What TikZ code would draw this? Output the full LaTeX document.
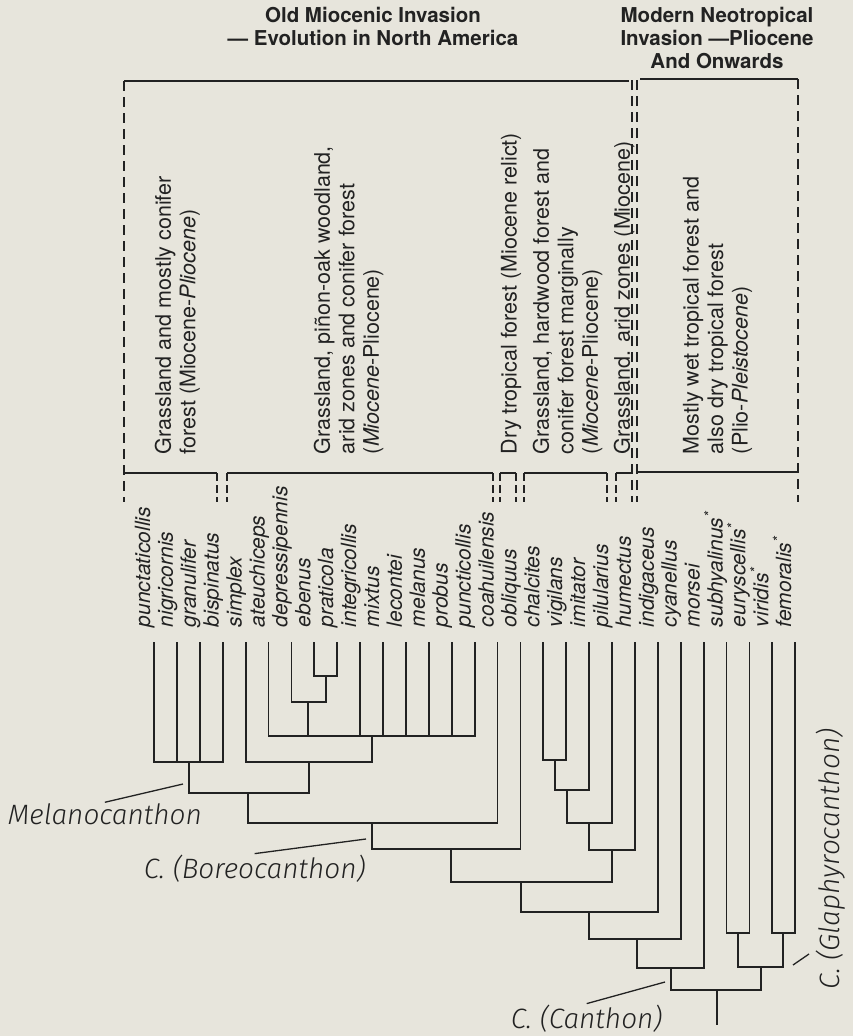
\documentclass[tikz,border=0pt]{standalone}
\usepackage{fontspec}
\setmainfont{TeX Gyre Heros}
\newfontfamily\leroy{Fira Sans Light Italic}
\definecolor{paper}{RGB}{231,229,220}
\definecolor{ink}{RGB}{34,34,34}

\begin{document}
\begin{tikzpicture}[x=1pt,y=-1pt,color=ink,line width=1.8pt,
    bar/.style={line width=2.8pt},
    sub/.style={line width=2pt},
    zone/.style={line width=1.2pt,dash pattern=on 10pt off 6pt},
    tick/.style={line width=1.2pt,dash pattern=on 8pt off 4pt},
    leader/.style={line width=1.3pt},
    taxon/.style={rotate=90,anchor=base west,inner sep=0,font=\fontsize{21}{24}\selectfont\itshape},
    habitat/.style={rotate=90,anchor=north west,inner sep=0,align=left,font=\fontsize{21.5}{24.5}\selectfont},
    header/.style={anchor=north,inner sep=0,align=center,font=\fontsize{20.5}{23.3}\selectfont\bfseries},
    genus/.style={anchor=base west,inner sep=0,font=\fontsize{28}{30}\selectfont\leroy}]
    \fill[paper] (0,0) rectangle (853,1036);

    \node[header] (oldhead) at (373,6) {Old Miocenic Invasion\\--- Evolution in North America};
    \node[header] (newhead) at (717,6) {Modern Neotropical\\Invasion ---Pliocene\\And Onwards};

    \draw[bar] (124,81) -- (629,81);
    \draw[bar] (640,79) -- (798,79);
    \draw[zone] (124,81) -- (124,502);
    \draw[zone] (632,80) -- (632,502);
    \draw[zone] (637,80) -- (637,502);
    \draw[zone] (798,79) -- (798,502);
    \draw[sub] (124,473) -- (217,473)
               (227,473) -- (493,473)
               (500,473) -- (516,473)
               (524,473) -- (607,473)
               (616,473) -- (632,473)
               (637,472) -- (798,472);
    \foreach \x in {217,227,493,500,516,524,607,616}
        \draw[tick] (\x,473) -- (\x,502);

    \node[habitat] (zoneA) at (154,455) {Grassland and mostly conifer\\forest (Miocene-\textit{Pliocene})};
    \node[habitat] (zoneB) at (313,455) {Grassland, piñon-oak woodland,\\arid zones and conifer forest\\(\textit{Miocene}-Pliocene)};
    \node[habitat] (zoneC) at (500,455) {Dry tropical forest (Miocene relict)};
    \node[habitat] (zoneD) at (532,455) {Grassland, hardwood forest and\\conifer forest marginally\\(\textit{Miocene}-Pliocene)};
    \node[habitat] (zoneE) at (613,455) {Grassland. arid zones (Miocene)};
    \node[habitat] (zoneF) at (682,455) {Mostly wet tropical forest and\\also dry tropical forest\\(Plio-\textit{Pleistocene})};

    \foreach \taxon [count=\i] in {punctaticollis,nigricornis,granulifer,bispinatus,simplex,
        ateuchiceps,depressipennis,ebenus,praticola,integricollis,mixtus,lecontei,melanus,
        probus,puncticollis,coahuilensis,obliquus,chalcites,vigilans,imitator,pilularius,
        humectus,indigaceus,cyanellus,morsei,subhyalinus\textsuperscript{*},
        euryscellis\textsuperscript{*},viridis\textsuperscript{*},femoralis\textsuperscript{*}}{
        \node[taxon] (sp\i) at ({150+(\i-1)*22.9},628) {\taxon};
        \coordinate (t\i) at ({154+(\i-1)*22.9},642);
    }

    \coordinate (n1) at (189,762);
    \coordinate (na) at (326,676);
    \coordinate (nb) at (308,702);
    \coordinate (nc) at (372,736);
    \coordinate (nd) at (309,762);
    \coordinate (ne) at (248,793);
    \coordinate (nf) at (372,823);
    \coordinate (ng) at (451,849);
    \coordinate (nh) at (555,760);
    \coordinate (ni) at (567,790);
    \coordinate (nj) at (589,823);
    \coordinate (nk) at (612,850);
    \coordinate (nl) at (521,882);
    \coordinate (nm) at (589,912);
    \coordinate (nn) at (637,939);
    \coordinate (no) at (671,968);
    \coordinate (np) at (738,933);
    \coordinate (nq) at (783,933);
    \coordinate (nr) at (761,967);
    \coordinate (root) at (717,990);
    \coordinate (rootbase) at (717,1025);
    \foreach \c/\p in {t1/n1,t2/n1,t3/n1,t4/n1,t8/na,t9/na,t7/nb,na/nb,
        t6/nc,nb/nc,t10/nc,t11/nc,t12/nc,t13/nc,t14/nc,t15/nc,t5/nd,nc/nd,
        n1/ne,nd/ne,ne/nf,t16/nf,nf/ng,t17/ng,t18/nh,t19/nh,nh/ni,t20/ni,
        ni/nj,t21/nj,nj/nk,t22/nk,ng/nl,nk/nl,nl/nm,t23/nm,nm/nn,t24/nn,
        nn/no,t25/no,t26/np,t27/np,t28/nq,t29/nq,np/nr,nq/nr,no/root,nr/root}
        \draw (\c) |- (\p);
    \draw (root) -- (rootbase);

    \node[genus] (melano) at (7,824) {Melanocanthon};
    \node[genus] (boreo) at (143,878) {C. (Boreocanthon)};
    \node[genus] (canthon) at (510,1028) {C. (Canthon)};
    \node[genus,rotate=90] (glaphy) at (839,990) {C. (Glaphyrocanthon)};
    \coordinate (melanoend) at (183,784);
    \coordinate (boreoend) at (366,839);
    \coordinate (canthonend) at (665,982);
    \coordinate (glaphyend) at (793,965);
    \draw[leader] (melano.north) -- (melanoend);
    \draw[leader] (boreo.north) -- (boreoend);
    \draw[leader] (canthon.north) -- (canthonend);
    \draw[leader] (glaphyend) -- ++(16,-11);
\end{tikzpicture}
\end{document}
